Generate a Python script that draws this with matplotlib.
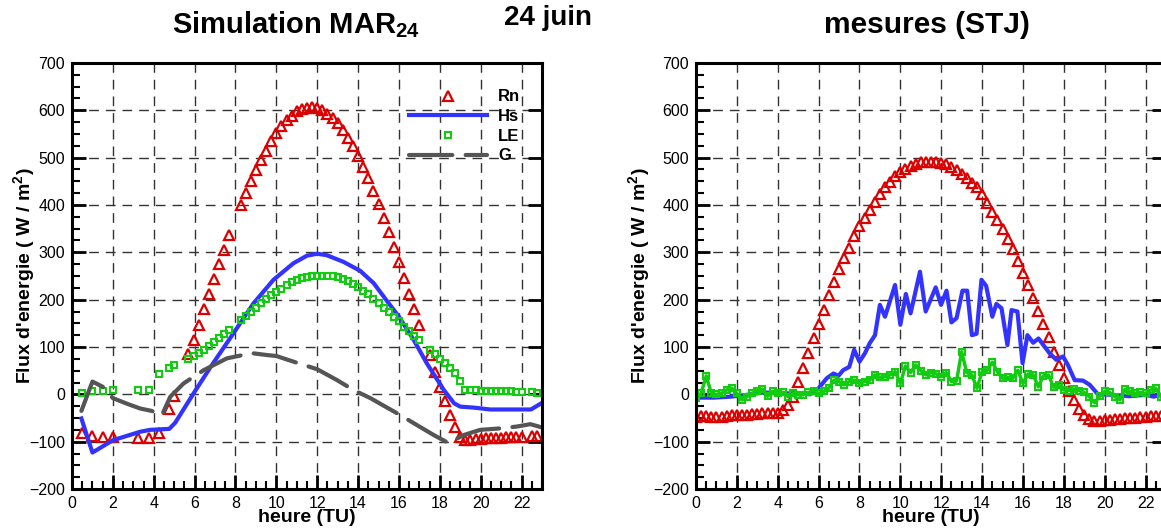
import matplotlib.pyplot as plt
import numpy as np
from matplotlib.ticker import MultipleLocator

plt.rcParams['font.family'] = ['Liberation Sans', 'DejaVu Sans']
plt.rcParams['mathtext.fontset'] = 'custom'
plt.rcParams['mathtext.rm'] = 'Liberation Sans'
plt.rcParams['mathtext.bf'] = 'Liberation Sans:bold'

# --- simulation MAR (24 juin) ---
t_mar = [0.5, 1.0, 1.5, 2.0, 3.25, 3.75, 4.25, 4.75, 5.0, 5.7, 5.95, 6.2, 6.45, 6.7,
         6.95, 7.2, 7.45, 7.7, 8.25, 8.5, 8.75, 9.0, 9.25, 9.5, 9.75, 10.0, 10.25,
         10.5, 10.75, 11.0, 11.25, 11.5, 11.75, 12.0, 12.25, 12.5, 12.75, 13.0,
         13.25, 13.5, 13.75, 14.0, 14.25, 14.5, 14.75, 15.0, 15.25, 15.5, 15.75,
         16.0, 16.25, 16.5, 16.75, 17.0, 17.5, 17.75, 18.0, 18.25, 18.5, 18.75,
         19.0, 19.25, 19.5, 19.75, 20.0, 20.25, 20.5, 20.75, 21.0, 21.25, 21.5,
         21.75, 22.0, 22.5, 22.75]
rn_mar = [-81, -88, -90, -91, -93, -92, -82, -30, -3, 85, 115, 147, 180, 211,
          243, 276, 305, 336, 400, 425, 450, 474, 495, 515, 535, 552, 566,
          579, 589, 598, 603, 605, 607, 604, 600, 593, 584, 573,
          559, 542, 525, 504, 481, 456, 430, 402, 373, 343, 311,
          280, 246, 213, 180, 147, 83, 48, 15, -14, -43, -68,
          -90, -97, -96, -95, -94, -93, -93, -92, -92, -91, -91,
          -90, -90, -88, -88]
le_mar = [2, 8, 8, 10, 10, 10, 42, 56, 61, 75, 81, 87, 94, 102,
          110, 118, 127, 135, 156, 166, 174, 183, 194, 202, 210, 216, 223,
          230, 237, 242, 246, 248, 249, 250, 250, 250, 249, 247,
          244, 239, 233, 227, 219, 211, 202, 192, 182, 173, 163,
          154, 143, 134, 124, 115, 94, 85, 75, 66, 56, 45,
          29, 9, 9, 9, 8, 8, 8, 7, 7, 6, 6,
          5, 5, 4, 2]

t_hs_mar = [0.46, 1.0, 2.0, 3.34, 3.83, 4.76, 5.05, 5.95, 6.77, 7.9, 8.88, 9.86, 10.84,
            11.5, 12.0, 12.46, 13.28, 14.1, 14.76, 15.4, 16.0, 16.72, 17.37, 18.2,
            18.7, 19.0, 19.65, 20.47, 21.45, 22.46, 23.0]
hs_mar = [-51, -123, -97, -79, -75, -73, -60, 2, 57, 129, 192, 242, 277,
          293, 297, 294, 280, 261, 235, 198, 164, 115, 65, 9,
          -19, -26, -28, -32, -32, -32, -18]

t_g_mar = [0.46, 1.0, 1.5, 2.0, 2.7, 3.34, 3.9, 4.4, 4.81, 5.46, 6.44, 7.58, 8.8, 9.54,
           10.0, 10.84, 12.0, 12.97, 13.78, 14.6, 16.07, 16.88, 17.7, 18.43, 19.17,
           19.98, 20.96, 21.78, 22.43, 23.0]
g_mar = [-35, 27, 16, -8, -20, -30, -35, -44, -5, 23, 51, 76, 87, 83,
         81, 69, 53, 30, 9, -8, -44, -65, -86, -103, -86,
         -75, -72, -68, -63, -70]

# --- mesures STJ ---
t_rn_stj = np.arange(0, 23.01, 0.25)
rn_stj = [-47, -46, -46, -47, -47, -47, -46, -44, -44, -43, -43, -42,
          -41, -40, -40, -40, -39, -33, -23, -5, 27, 55, 87, 120,
          149, 178, 210, 238, 265, 287, 309, 335, 356, 372, 389, 407,
          423, 438, 449, 462, 469, 477, 482, 486, 490, 491, 491, 490,
          488, 486, 481, 474, 466, 457, 447, 437, 423, 405, 386, 369,
          350, 329, 307, 281, 257, 231, 203, 176, 149, 122, 90, 62,
          34, 8, -11, -30, -43, -52, -56, -56, -55, -54, -53, -52,
          -51, -50, -49, -48, -47, -46, -46, -45, -44]

t_le_stj = np.arange(0, 22.76, 0.25)
le_stj = [-7, 2, 39, 2, 0, 2, 9, 13, 2, -12, -5, 2, 8, 11, -4, 6,
          2, 4, -5, 2, -1, -1, 4, 8, 2, 6, 13, 30, 27, 20, 27, 30,
          23, 27, 30, 41, 36, 37, 41, 48, 23, 60, 46, 62, 50, 41, 46, 43,
          37, 46, 27, 28, 90, 46, 41, 13, 48, 51, 68, 48, 34, 36, 34, 51,
          23, 43, 41, 16, 39, 41, 15, 20, 9, 8, 11, 8, 4, -5, -18, -4,
          6, 4, -5, -11, 11, 6, 2, 4, 2, 9, 13, -5]

t_hs_stj = [0, 0.86, 1.68, 2.5, 3.3, 4.1, 4.9, 5.6, 6.0, 6.4, 6.73, 6.97, 7.2, 7.5,
            7.74, 8.0, 8.27, 8.5, 8.76, 9.0, 9.25, 9.74, 10.0, 10.27, 10.5, 10.96,
            11.24, 11.73, 11.99, 12.26, 12.5, 12.75, 13.04, 13.27, 13.5, 13.73,
            13.97, 14.2, 14.5, 14.7, 14.95, 15.24, 15.44, 15.73, 15.98, 16.22,
            16.5, 16.76, 17.0, 17.3, 17.63, 17.96, 18.2, 18.53, 18.94, 19.27,
            19.67, 20.4, 21.2, 22.0, 22.4, 22.7, 23.0]
hs_stj = [-7, -7, -5, -1, 4, 2, 2, 0, 13, 34, 44, 39, 51, 58,
          94, 69, 87, 108, 125, 189, 164, 231, 147, 212, 171, 259,
          175, 226, 189, 219, 152, 161, 219, 219, 125, 128,
          242, 229, 164, 191, 182, 104, 178, 175, 66, 125,
          109, 118, 104, 87, 73, 80, 62, 30, 29, 20,
          0, -1, -4, -1, -5, -1, -3]

rouge = '#dd0000'
bleu = '#3333ff'
vert = '#11cc11'
gris = '#555555'

fig = plt.figure(figsize=(11.61, 5.31), dpi=100)
ax1 = fig.add_axes([72/1161, 42/531, 470/1161, 426/531])
ax2 = fig.add_axes([696/1161, 42/531, 470/1161, 426/531])

for ax in (ax1, ax2):
    ax.set_xlim(0, 23)
    ax.set_ylim(-200, 700)
    ax.set_xticks(np.arange(0, 23, 2))
    ax.set_yticks(np.arange(-200, 701, 100))
    ax.xaxis.set_minor_locator(MultipleLocator(0.5))
    ax.yaxis.set_minor_locator(MultipleLocator(25))
    ax.tick_params(which='major', direction='in', length=10, width=2,
                   right=True, labelsize=11.5, pad=5)
    ax.tick_params(which='minor', direction='in', length=6, width=1.5)
    for s in ax.spines.values():
        s.set_linewidth(2.2)
    ax.set_axisbelow(True)
    ax.grid(True, which='major', color='#333333', lw=1.0, linestyle=(0, (7, 5)))
    ax.set_xlabel('heure (TU)', fontsize=14, fontweight='bold')
    ax.set_ylabel("Flux d'energie ( W / m$^{\\mathbf{2}}$)", fontsize=14, fontweight='bold')
    ax.xaxis.label.set_va('center')
    ax.yaxis.label.set_va('center')
    ax.xaxis.set_label_coords(0.5, -0.068)

ax1.yaxis.set_label_coords(-0.1, 0.5)
ax2.yaxis.set_label_coords(-0.119, 0.5)

# panneau gauche
rn1, = ax1.plot(t_mar, rn_mar, linestyle='none', marker='^', ms=7, mfc='none',
                mec=rouge, mew=1.6, label='Rn')
hs1, = ax1.plot(t_hs_mar, hs_mar, color=bleu, lw=3, label='Hs')
le1, = ax1.plot(t_mar, le_mar, linestyle='none', marker='s', ms=5, mfc='none',
                mec=vert, mew=1.5, label='LE')
g1, = ax1.plot(t_g_mar, g_mar, color=gris, lw=3, label='G')
g1.set_dashes([10.4, 3.2])
g1.set_dash_capstyle('round')

ax1.legend(handles=[rn1, hs1, le1, g1], loc='upper left', bbox_to_anchor=(0.717, 0.938),
           frameon=False, prop={'weight': 'bold', 'size': 12}, handlelength=4.7,
           handletextpad=0.65, labelspacing=0.28, borderpad=0, borderaxespad=0,
           numpoints=1)

# panneau droit
ax2.plot(t_rn_stj, rn_stj, linestyle='none', marker='^', ms=7, mfc='none',
         mec=rouge, mew=1.6)
ax2.plot(t_hs_stj, hs_stj, color=bleu, lw=3)
ax2.plot(t_le_stj, le_stj, color=vert, lw=2.5, marker='s', ms=5, mfc='none',
         mec=vert, mew=1.5)

fig.text(296/1161, 1 - 33/531, 'Simulation MAR$_{\\mathbf{24}}$', fontsize=21,
         fontweight='bold', ha='center', va='baseline')
fig.text(548/1161, 1 - 25/531, '24 juin', fontsize=20, fontweight='bold',
         ha='center', va='baseline')
fig.text(927/1161, 1 - 33/531, 'mesures (STJ)', fontsize=21.5, fontweight='bold',
         ha='center', va='baseline')

fig.savefig('out.png', dpi=100)
